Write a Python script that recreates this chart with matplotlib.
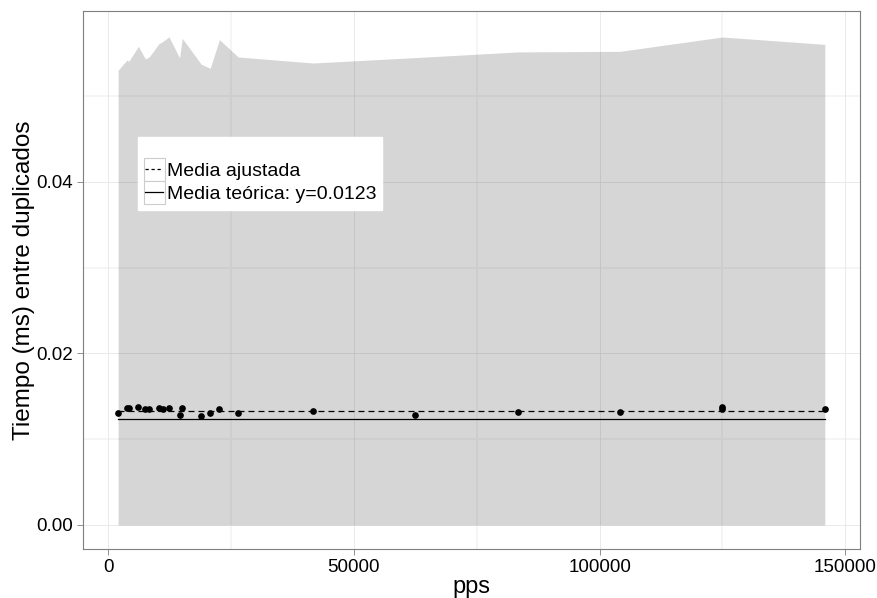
import matplotlib.pyplot as plt
from matplotlib.patches import Rectangle
from matplotlib.lines import Line2D

plt.rcParams["font.family"] = ["Liberation Sans", "DejaVu Sans"]

# paquetes por segundo de cada prueba
pps = [2000, 3780, 4190, 6130, 7560, 8380, 10280, 11140, 12360, 14510,
       15060, 18940, 20740, 22620, 26460, 41667, 62500, 83333, 104167,
       125000, 145833]
# tiempo medio entre duplicados
tiempo = [0.01310, 0.01364, 0.01361, 0.01380, 0.01353, 0.01353, 0.01361,
          0.01353, 0.01361, 0.01286, 0.01361, 0.01271, 0.01306, 0.01353,
          0.01303, 0.01326, 0.01279, 0.01321, 0.01318, 0.01373, 0.01349]
extra_pps = [125000]
extra_tiempo = [0.01349]
# limite superior de la banda
banda_sup = [0.05300, 0.05417, 0.05405, 0.05578, 0.05431, 0.05458, 0.05607,
             0.05636, 0.05689, 0.05443, 0.05671, 0.05368, 0.05322, 0.05656,
             0.05454, 0.05384, 0.05447, 0.05513, 0.05520, 0.05687, 0.05601]
media_ajustada = 0.01333
media_teorica = 0.0123

DASH = (0, (4.8, 3.2))


class ClaveHandler:
    """Clave de leyenda con recuadro gris, como en ggplot."""

    def legend_artist(self, legend, orig_handle, fontsize, handlebox):
        x0, y0 = -handlebox.xdescent, -handlebox.ydescent
        w, h = handlebox.width, handlebox.height
        caja = Rectangle((x0, y0), w, h, facecolor="white",
                         edgecolor="#cccccc", lw=0.8,
                         transform=handlebox.get_transform())
        linea = Line2D([x0 + 0.08 * w, x0 + 0.92 * w], [y0 + h / 2] * 2,
                       color="black", lw=0.9,
                       ls=orig_handle.get_linestyle(),
                       transform=handlebox.get_transform())
        if orig_handle.get_linestyle() == "--":
            linea.set_dashes((2.6, 2.2))
        handlebox.add_artist(caja)
        handlebox.add_artist(linea)
        return caja


fig = plt.figure(figsize=(8.77, 5.98), dpi=100)
ax = fig.add_axes([0.0946, 0.0819, 0.8860, 0.8997])

# rejilla estilo theme_bw
for v in [25000, 75000, 125000]:
    ax.axvline(v, color="#f5f5f5", lw=1.3, zorder=0)
for v in [0.01, 0.03, 0.05]:
    ax.axhline(v, color="#f5f5f5", lw=1.3, zorder=0)
for v in [0, 50000, 100000, 150000]:
    ax.axvline(v, color="#e6e6e6", lw=0.6, zorder=0.5)
for v in [0.0, 0.02, 0.04]:
    ax.axhline(v, color="#e6e6e6", lw=0.6, zorder=0.5)

ax.fill_between(pps, [0] * len(pps), banda_sup, color="#333333", alpha=0.2,
                lw=0, zorder=1)
ax.plot([pps[0], pps[-1]], [media_ajustada] * 2, color="black", lw=0.9,
        ls=DASH, zorder=2)
ax.plot([pps[0], pps[-1]], [media_teorica] * 2, color="black", lw=0.9,
        zorder=2)
ax.plot(pps + extra_pps, tiempo + extra_tiempo, "o", color="black",
        markersize=3.8, zorder=3)

ax.set_xlim(-5150, 153000)
ax.set_ylim(-0.0028, 0.0599)
ax.set_xticks([0, 50000, 100000, 150000])
ax.set_xticklabels(["0", "50000", "100000", "150000"])
ax.set_yticks([0.0, 0.02, 0.04])
ax.set_yticklabels(["0.00", "0.02", "0.04"])
ax.tick_params(length=4.5, width=0.6, color="#7f7f7f", labelsize=13.5,
               pad=2.5)
for s in ax.spines.values():
    s.set_color("#7f7f7f")
    s.set_linewidth(0.8)

ax.set_xlabel("pps", fontsize=17, labelpad=0)
ax.set_ylabel("Tiempo (ms) entre duplicados", fontsize=17.5, labelpad=1)

h1 = Line2D([], [], color="black", ls="--")
h2 = Line2D([], [], color="black", ls="-")
leg = ax.legend([h1, h2], ["Media ajustada", "Media teórica: y=0.0123"],
                handler_map={h1: ClaveHandler(), h2: ClaveHandler()},
                loc="upper left", bbox_to_anchor=(0.0708, 0.7658),
                fontsize=14, title=" ", title_fontsize=12,
                frameon=True, fancybox=False, edgecolor="white",
                framealpha=1, handlelength=1.08, handleheight=1.45,
                handletextpad=0.12, labelspacing=0.0, borderpad=0.3,
                borderaxespad=0)
leg.set_zorder(5)

fig.savefig("out.png", dpi=100)
